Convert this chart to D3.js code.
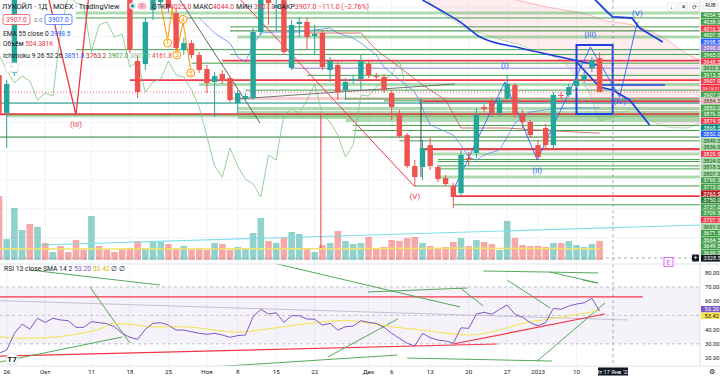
<!DOCTYPE html>
<html>
<head>
<meta charset="utf-8">
<script src="https://cdn.jsdelivr.net/npm/d3@7"></script>
<style>
  body { margin: 0; background: #fff; }
  svg { display: block; font-family: Roboto, "Noto Sans", sans-serif; }
</style>
</head>
<body>
<svg id="chart" width="720" height="376"></svg>
<script>
// daily candles, index 0..78
const opens = [3966,3834,3973,4262,4300,4280,4330,4310,4325,4305,
  4300,4270,4265,4310,4300,4290,4270,4240,4015,4004.5,
  4192.5,4220.5,4241.5,4182,4053.5,4077.5,4036,3987,3942,3969.5,
  3955.5,3868.5,3882.5,3886,4116,4255.5,4199.5,4227.5,3990.5,4144,
  4151,4102,4112.5,3983.5,4001,3914,3945.5,3952,4004.5,3962.5,
  3959,3903.5,3834,3757,3649,3645.5,3722,3645.5,3607,3579.5,
  3555,3677,3694.5,3854.5,3872,3834,3886,3931.5,3827,3802.5,
  3722,3781.5,3722,3896.5,3896.5,3928,3949,3990.5,4025];
const highs = [3983.5,3949,4275,4315,4310,4340,4345,4335,4330,4315,
  4305,4280,4320,4315,4305,4295,4275,4250,4036,4165,
  4245,4262.5,4255.5,4199.5,4095,4088,4046.5,4001,3976.5,3983.5,
  3962.5,3914,3903.5,4130,4262.5,4269.5,4245,4241.5,4158,4165,
  4165,4140.5,4123,4029,4011.5,3955.5,3962.5,4036,4018.5,3973,
  3969.5,3914,3844.5,3764,3670,3739.5,3746.5,3652.5,3617.5,3590,
  3705,3698,3851,3865,3882.5,3889.5,3966,3938.5,3844.5,3809.5,
  3739.5,3795.5,3907,3907,3935,3955.5,3976.5,4029,4044];
const lows = [3816.5,3711.5,3962.5,4250,4270,4275,4300,4305,4295,4290,
  4262,4255,4260,4290,4282,4262,4238,4043,3886,3983.5,
  4158,4199.5,4185.5,4053.5,4036,4025.5,3973,3903.5,3820,3935,
  3872,3834,3875.5,3879,4105.5,4140.5,4123,4036,3983.5,4098.5,
  4053.5,4036,3983.5,3942,3879,3879,3935,3914,3955.5,3949,
  3903.5,3809.5,3746.5,3642,3576,3600.5,3635,3593.5,3579.5,3502.5,
  3544.5,3652.5,3677,3837.5,3820,3823.5,3879,3816.5,3781.5,3746.5,
  3670,3705,3711.5,3882.5,3889.5,3921,3938.5,3976.5,3907];
const closes = [3834,3935,4262,4300,4280,4330,4310,4325,4305,4300,
  4270,4265,4310,4300,4290,4270,4245,4053.5,3907,4151,
  4227.5,4248.5,4199.5,4060.5,4077.5,4036,3983.5,3938.5,3962.5,3945.5,
  3879,3903.5,3893,4116,4245,4217,4210,4046.5,4140.5,4151,
  4098.5,4109,3994,4015,3907,3942,3952,4015,3966,3959,
  3914,3854.5,3753.5,3649,3610.5,3711.5,3649,3603.5,3586.5,3541,
  3687.5,3670,3827,3847.5,3834,3879,3935,3827,3802.5,3757,
  3680.5,3722,3896.5,3893,3924.5,3949,3966,4018,3907];
const volumes = [1696,557,1378,795,954,875,451,212,371,212,
  530,265,1166,371,265,212,292,318,504,318,
  477,477,424,292,371,292,318,265,451,424,
  265,345,292,716,1113,504,451,583,742,689,
  318,212,398,451,769,504,424,451,610,318,
  345,530,504,583,610,451,371,292,345,477,
  583,371,530,477,424,265,1034,583,398,371,
  371,345,451,451,504,398,345,424,504.381];
const volMaIdx = [0, 15, 30, 45, 60, 78];
const volMa = [300, 290, 295, 300, 310, 300];

const rsi = [23.3,25.6,37.4,43.9,40.4,48.0,45.1,48.0,46.8,46.3,
  41.6,41.6,45.6,44.9,44.2,42.0,37.4,34.6,33.2,40.2,
  44.4,44.9,43.2,39.7,39.7,38.5,37.4,36.7,37.4,36.2,
  34.6,35.8,36.2,49.1,54.3,51.0,51.9,45.1,49.8,49.8,
  47.5,47.3,43.2,44.4,39.7,42.0,42.5,46.3,45.1,44.4,
  41.6,37.4,33.9,30.4,28.5,37.4,34.3,32.7,32.0,30.4,
  41.3,40.9,51.0,52.2,50.8,54.3,57.3,50.8,48.7,44.9,
  42.7,44.9,55.0,54.3,56.6,58.0,58.9,62.0,53.2];
const rsiSmaIdx = [0,3,7,11,13,15,17,20,24,28,31,35,40,45,48,51,55,61,65,68,72,78];
const rsiSma = [35.0,33.9,34.6,37.8,40.2,44.4,43.7,42.0,42.0,39.7,38.2,40.6,44.2,46.5,44.6,42.0,39.7,36.2,39.7,44.4,47.9,53.42];

// indicators
const emaIdx = [55, 57.3, 59.9, 62.5, 67.7, 72.9, 78];
const ema = [4227.6, 4192.8, 4151, 4098.6, 4060.3, 4029, 3998.5];
const tenkanIdx = [26,28,30,31,32,33,34,36,39,41,43,44,46,47,49,50,52,54,56,59,60,61,62,63,65,66,67,69,71,74,78];
const tenkan = [4165,4112.5,4077.5,4029,4011.5,4071,4112.5,4116,4116,4123,4130,4112.5,4095,4077.5,4036,3994,3949,3907,3792,3757,3722,3680.5,3670,3687.5,3705,3750,3799,3837.5,3844.5,3851,3851.8];
const kijunIdx = [40,47,49,52,55,58,60,66,70,78];
const kijun = [4112.5,4112.5,4053.5,3994,3931.5,3879,3781.5,3781.5,3774.5,3763.2];
const cloudIdx = [55.6,57,59,61,62.5,65,67.7,70,72.9,75,76.8,78,82.3,84.5,86.8,89.3,91,93];
const spanA = [4227.6,4192.8,4158,4123,4112.6,4090,4070.8,4045,4018.5,3960,3896.5,3807.5,3844.3,3809.4,3785,3781.5,3799,3805];
const spanB = [4262,4255,4250,4245,4240,4238,4225,4210,4195,4186,4175,4161.8,4140.5,4120,4088,4040,4020,4000];

// horizontal levels
const levelPrices = [4182,4165,4134,4120,4099,4054.5,4038,4016.5,4007.5,3990,3965,3948.5,3933.5,3913.5,3884.5,3883,3876,3874.5,3868.5,3849.5,3836,3829.5,3824,3818.5,3807.5,3790.5,3773,3750,3737,3709.5,3707.5,3691,3671.5,3664.5,3649.5,3639,3610.5,3579.5,3544.5,3514];
const levelKinds = ["band","green","green","dark","band","green","green","red","green","purple","green","red","band","green","pink","green","green","red","teal","band","band","red","band","band","band","green","green","dark","green","green","red","band","green","green","green","green","band","green","red","green"];
const levelStart = [10,10,30,30,31,10,30,29,25,38,40,17,26,32,30,45,50,55,0,31,31,0,1,31,45,46,46,0,52,55,55,56,57,57,57,57,57,54,59,59];
const levelLabeled = [0,0,0,0,0,1,1,1,1,1,1,1,1,1,1,1,1,1,1,1,1,1,1,1,1,1,1,1,1,1,1,1,1,1,1,1,0,0,0,0];

// indicator marks on the price scale
const markPrices = [3998.5, 3907, 3852, 3763.5, 3906.9];
const markKinds = ["blue","current","blue","darkred","chikou"];
const markTexts = ["3998.5","3907.0","3852.0","3763.5","3907.0"];

const tickIdx = [1, 6, 12, 17, 22, 27, 31, 36, 41, 48, 51, 56, 61, 66, 70, 75];
const tickLabels = ["26","Окт","11","18","25","Ноя","8","15","22","Дек","6","13","20","27","2023","10"];

const rsiTicks = [80, 70, 60, 40, 30, 20];

const colors = {
  up: "#26a69a", down: "#ef5350",
  green: "#43a047", dark: "#2e7d32", band: "#a5d6a7", red: "#f23645",
  purple: "#9575cd", pink: "#f8bbd0", teal: "#00897b", blue: "#2962ff",
  darkred: "#b71c1c", current: "#f23645", chikou: "#43a047"
};

const svg = d3.select("#chart");
const plotW = 700, mainH = 264, rsiTop = 264, rsiBottom = 366;

const x = d3.scaleLinear().domain([0, 78]).range([-1, 599.6]);
const y = d3.scaleLinear().domain([3314.6, 4227.6]).range([262, 0]);
const yVol = d3.scaleLinear().domain([0, 2000]).range([260, 184.5]);
const yRsi = d3.scaleLinear().domain([14.4, 86.2]).range([rsiBottom, rsiTop]);

const defs = svg.append("defs");
defs.append("clipPath").attr("id", "clipMain").append("rect").attr("x", 0).attr("y", 0).attr("width", plotW).attr("height", mainH);
defs.append("clipPath").attr("id", "clipRsi").append("rect").attr("x", 0).attr("y", rsiTop).attr("width", plotW).attr("height", rsiBottom - rsiTop);

// grid
const grid = svg.append("g");
grid.selectAll("line.v").data(tickIdx).enter().append("line")
  .attr("x1", d => x(d)).attr("x2", d => x(d)).attr("y1", 0).attr("y2", rsiBottom)
  .attr("stroke", "#f0f3fa");
grid.selectAll("line.h").data(d3.range(3400, 4250, 100)).enter().append("line")
  .attr("x1", 0).attr("x2", plotW).attr("y1", d => y(d)).attr("y2", d => y(d))
  .attr("stroke", "#f0f3fa");

const main = svg.append("g").attr("clip-path", "url(#clipMain)");

// cloud
const cloud = cloudIdx.map((d, i) => ({ i: d, a: spanA[i], b: spanB[i] }));
main.append("path").datum(cloud)
  .attr("d", d3.area().x(d => x(d.i)).y0(d => y(d.a)).y1(d => y(d.b)).curve(d3.curveMonotoneX))
  .attr("fill", "rgba(242,54,69,0.09)");
main.append("path").datum(cloud)
  .attr("d", d3.line().x(d => x(d.i)).y(d => y(d.b)).curve(d3.curveMonotoneX))
  .attr("fill", "none").attr("stroke", "rgba(242,54,69,0.4)").attr("stroke-width", 0.8);
main.append("path").datum(cloud)
  .attr("d", d3.line().x(d => x(d.i)).y(d => y(d.a)).curve(d3.curveMonotoneX))
  .attr("fill", "none").attr("stroke", "rgba(67,160,71,0.4)").attr("stroke-width", 0.8);

// volume
main.selectAll("rect.vol").data(volumes).enter().append("rect")
  .attr("x", (d, i) => x(i) - 3.3).attr("width", 6.6)
  .attr("y", d => yVol(d)).attr("height", d => yVol(0) - yVol(d))
  .attr("fill", (d, i) => closes[i] >= opens[i] ? "rgba(38,166,154,0.5)" : "rgba(239,83,80,0.5)");
main.append("path").datum(volMaIdx.map((d, i) => [d, volMa[i]]))
  .attr("d", d3.line().x(d => x(d[0])).y(d => yVol(d[1])).curve(d3.curveMonotoneX))
  .attr("fill", "none").attr("stroke", "#f5e46a").attr("stroke-width", 1.5);
main.append("line")
  .attr("x1", x(5.3)).attr("y1", yVol(397)).attr("x2", x(91)).attr("y2", yVol(927))
  .attr("stroke", "#80deea").attr("stroke-width", 1.2);

// horizontal levels
const levels = levelPrices.map((p, i) => ({ p, kind: levelKinds[i], start: levelStart[i] }));
main.selectAll("line.lvl").data(levels).enter().append("line")
  .attr("x1", d => x(d.start)).attr("x2", plotW)
  .attr("y1", d => y(d.p)).attr("y2", d => y(d.p))
  .attr("stroke", d => d.kind === "band" ? "rgba(76,175,80,0.45)" : d.kind === "pink" ? "rgba(242,54,69,0.25)" : colors[d.kind])
  .attr("stroke-width", d => d.kind === "band" || d.kind === "pink" ? 3 : d.kind === "red" ? 1.8 : 1);

// ichimoku lines
const lineGen = d3.line().x(d => x(d[0])).y(d => y(d[1]));
main.append("path").datum(tenkanIdx.map((d, i) => [d, tenkan[i]]))
  .attr("d", lineGen).attr("fill", "none").attr("stroke", "#5b8def").attr("stroke-width", 0.8);
main.append("path").datum(kijunIdx.map((d, i) => [d, kijun[i]]))
  .attr("d", lineGen).attr("fill", "none").attr("stroke", "#c0504d").attr("stroke-width", 0.8);
main.append("path").datum(closes.map((c, i) => [i - 25, c]))
  .attr("d", lineGen).attr("fill", "none").attr("stroke", "#7cc47f").attr("stroke-width", 0.8);
main.append("path").datum(emaIdx.map((d, i) => [d, ema[i]]))
  .attr("d", d3.line().x(d => x(d[0])).y(d => y(d[1])).curve(d3.curveMonotoneX)).attr("fill", "none").attr("stroke", "#1e40e0").attr("stroke-width", 1.6);

// drawings (bar index, price)
const drawings = [
  { pts: [[31.4, 4227.6], [53.9, 3579.4]], c: "#f23645", w: 1 },
  { pts: [[23.5, 4227.6], [33.9, 3799]], c: "#555", w: 0.9 },
  { pts: [[30.9, 3882.6], [59.2, 3934.9]], c: "#666", w: 0.9 },
  { pts: [[54.8, 3882.6], [54.8, 3610.8]], c: "#222", w: 0.8 },
  { pts: [[41.8, 3833.8], [41.8, 3363.3]], c: "#f23645", w: 1 },
  { pts: [[6.5, 4227.6], [10, 3826.8], [11.6, 4227.6]], c: "#f23645", w: 1.3 },
  { pts: [[20.9, 4227.6], [21.9, 4088.2], [22.5, 4199.7], [23.1, 4046.4], [23.9, 4150.9], [24.9, 3983.6]], c: "#ff9800", w: 1 },
  { pts: [[59, 3565.5], [65.7, 3941.8], [69.9, 3670], [76.8, 4063.8], [80.6, 3889.6], [82.9, 4150.9]], c: "#2962ff", w: 0.9 },
  { pts: [[76.8, 4245], [79, 4185.8], [79.7, 4168.4], [82.2, 4164.9], [83.2, 4130], [86.2, 4081.2]], c: "#1e40e0", w: 1.8 },
  { pts: [[75, 4011.5], [78, 3924.4], [79.7, 3914], [81.9, 3879.1], [84.5, 3792]], c: "#1e40e0", w: 1.8 },
  { pts: [[78, 3931.5], [86.5, 3931.5]], c: "#1e40e0", w: 1.5 }
];
main.selectAll("path.drw").data(drawings).enter().append("path")
  .attr("d", d => d3.line().x(p => x(p[0])).y(p => y(p[1]))(d.pts))
  .attr("fill", "none").attr("stroke", d => d.c).attr("stroke-width", d => d.w);
main.append("rect")
  .attr("x", x(75)).attr("y", y(4070.8)).attr("width", x(79.7) - x(75)).attr("height", y(3830.3) - y(4070.8))
  .attr("fill", "none").attr("stroke", "#1e40e0").attr("stroke-width", 2);

// candles
const idx = d3.range(opens.length);
main.selectAll("line.wick").data(idx).enter().append("line")
  .attr("x1", i => x(i)).attr("x2", i => x(i)).attr("y1", i => y(highs[i])).attr("y2", i => y(lows[i]))
  .attr("stroke", i => closes[i] >= opens[i] ? colors.up : colors.down);
main.selectAll("rect.body").data(idx).enter().append("rect")
  .attr("x", i => x(i) - 2.7).attr("width", 5.4)
  .attr("y", i => y(Math.max(opens[i], closes[i])))
  .attr("height", i => Math.max(1, Math.abs(y(opens[i]) - y(closes[i]))))
  .attr("fill", i => closes[i] >= opens[i] ? colors.up : colors.down);

// current price line
main.append("line").attr("x1", 0).attr("x2", plotW).attr("y1", y(3907)).attr("y2", y(3907))
  .attr("stroke", "#f23645").attr("stroke-dasharray", "1,2").attr("stroke-opacity", 0.7);

// wave labels
const waveLabels = [
  { t: "(III)", i: 10, p: 3785, c: "#f23645" },
  { t: "(V)", i: 54, p: 3535, c: "#f23645" },
  { t: "(I)", i: 65.7, p: 3990, c: "#2962ff" },
  { t: "(II)", i: 69.9, p: 3625, c: "#2962ff" },
  { t: "(III)", i: 76.8, p: 4100, c: "#2962ff" },
  { t: "(IV)", i: 80.6, p: 3865, c: "#2962ff" },
  { t: "(V)", i: 82.9, p: 4173, c: "#2962ff" }
];
main.selectAll("text.wave").data(waveLabels).enter().append("text")
  .attr("x", d => x(d.i)).attr("y", d => y(d.p)).attr("text-anchor", "middle")
  .attr("font-size", 8).attr("fill", d => d.c).text(d => d.t);
const orangeMarks = [{ t: "1", i: 21.9, p: 4078 }, { t: "3", i: 23.1, p: 4036 }, { t: "4", i: 23.9, p: 4160 }, { t: "5", i: 24.9, p: 3973 }];
const om = main.selectAll("g.om").data(orangeMarks).enter().append("g")
  .attr("transform", d => `translate(${x(d.i)},${y(d.p)})`);
om.append("circle").attr("r", 4).attr("fill", "#fff").attr("stroke", "#ff9800");
om.append("text").attr("y", 2.5).attr("text-anchor", "middle").attr("font-size", 7).attr("fill", "#ff9800").text(d => d.t);

// crosshair
svg.append("line").attr("x1", 613).attr("x2", 613).attr("y1", 0).attr("y2", rsiBottom)
  .attr("stroke", "#9598a1").attr("stroke-dasharray", "3,3").attr("stroke-width", 0.8);
svg.append("line").attr("x1", 0).attr("x2", plotW).attr("y1", 258).attr("y2", 258)
  .attr("stroke", "#9598a1").attr("stroke-dasharray", "3,3").attr("stroke-width", 0.8);

// RSI pane
const rsiG = svg.append("g").attr("clip-path", "url(#clipRsi)");
rsiG.append("rect").attr("x", 0).attr("width", plotW).attr("y", yRsi(70)).attr("height", yRsi(30) - yRsi(70))
  .attr("fill", "rgba(126,87,194,0.08)");
rsiG.selectAll("line.band").data([70, 50, 30]).enter().append("line")
  .attr("x1", 0).attr("x2", plotW).attr("y1", d => yRsi(d)).attr("y2", d => yRsi(d))
  .attr("stroke", "#b2b5be").attr("stroke-dasharray", "3,3").attr("stroke-width", 0.8);
const rsiDrawings = [
  { pts: [[-0.1, 63], [83.6, 63]], c: "#f23645", w: 1.2 },
  { pts: [[0.1, 60.4], [81.7, 46.8]], c: "#c5bfd6", w: 1 },
  { pts: [[0.1, 21.4], [64.7, 29.9]], c: "#f23645", w: 1.2 },
  { pts: [[59, 29.9], [78.7, 51]], c: "#f23645", w: 1.2 },
  { pts: [[4, 82], [20.9, 71.4]], c: "#43a047", w: 0.9 },
  { pts: [[11.8, 70], [17, 30.6]], c: "#43a047", w: 0.9 },
  { pts: [[0.1, 17.2], [16, 34.8]], c: "#43a047", w: 0.9 },
  { pts: [[21.3, 11.5], [51.7, 22.1]], c: "#43a047", w: 0.9 },
  { pts: [[42.7, 20.7], [51.8, 47.5]], c: "#43a047", w: 0.9 },
  { pts: [[34.5, 88.3], [59.9, 55.9]], c: "#43a047", w: 0.9 },
  { pts: [[47.9, 66.5], [60.8, 69.3]], c: "#43a047", w: 0.9 },
  { pts: [[59.9, 69.3], [62.9, 56.6]], c: "#43a047", w: 0.9 },
  { pts: [[66, 74.9], [71.6, 55.2]], c: "#43a047", w: 0.9 },
  { pts: [[75.8, 74.9], [77.8, 72.8]], c: "#43a047", w: 0.9 },
  { pts: [[53, 20], [71.8, 17.9]], c: "#43a047", w: 0.9 },
  { pts: [[69.9, 17.9], [78.7, 58.7]], c: "#43a047", w: 0.9 },
  { pts: [[62.9, 81.3], [77.8, 79.9]], c: "#43a047", w: 0.9 },
  { pts: [[71.5, 80.6], [77.8, 72.8]], c: "#43a047", w: 0.9 }
];
rsiG.selectAll("path.rd").data(rsiDrawings).enter().append("path")
  .attr("d", d => d3.line().x(p => x(p[0])).y(p => yRsi(p[1]))(d.pts))
  .attr("fill", "none").attr("stroke", d => d.c).attr("stroke-width", d => d.w);
rsiG.append("path").datum(rsiSmaIdx.map((d, i) => [d, rsiSma[i]]))
  .attr("d", d3.line().x(d => x(d[0])).y(d => yRsi(d[1])).curve(d3.curveMonotoneX))
  .attr("fill", "none").attr("stroke", "#f7e34a").attr("stroke-width", 1);
rsiG.append("path").datum(rsi)
  .attr("d", d3.line().x((d, i) => x(i)).y(d => yRsi(d)))
  .attr("fill", "none").attr("stroke", "#7e57c2").attr("stroke-width", 1);

// pane separator and axis border
svg.append("line").attr("x1", 0).attr("x2", 720).attr("y1", rsiTop).attr("y2", rsiTop).attr("stroke", "#e0e3eb");
svg.append("line").attr("x1", plotW).attr("x2", plotW).attr("y1", 0).attr("y2", rsiBottom).attr("stroke", "#e0e3eb");
svg.append("line").attr("x1", 0).attr("x2", 720).attr("y1", rsiBottom).attr("y2", rsiBottom).attr("stroke", "#e0e3eb");

// price scale labels (stacked like the terminal does)
const labelH = 6.6;
let marks = levels.filter((d, i) => levelLabeled[i]).map(d => ({ p: d.p, kind: d.kind, text: d3.format(".1f")(d.p) }));
markPrices.forEach((p, i) => marks.push({ p, kind: markKinds[i], text: markTexts[i] }));
marks.push({ p: 3906.95, kind: "countdown", text: "03:15:21" });
marks.sort((a, b) => b.p - a.p);
marks.forEach(m => m.y = y(m.p));
for (let i = 1; i < marks.length; i++) marks[i].y = Math.max(marks[i].y, marks[i - 1].y + labelH);
marks[marks.length - 1].y = Math.min(marks[marks.length - 1].y, 253);
for (let i = marks.length - 2; i >= 0; i--) marks[i].y = Math.min(marks[i].y, marks[i + 1].y - labelH);
marks[0].y = Math.max(marks[0].y, 12);
for (let i = 1; i < marks.length; i++) marks[i].y = Math.max(marks[i].y, marks[i - 1].y + labelH);

const labelFill = { band: "#a5d6a7", pink: "#f8bbd0", countdown: "#f23645" };
const lab = svg.append("g").selectAll("g").data(marks).enter().append("g")
  .attr("transform", d => `translate(701,${d.y})`);
lab.append("rect").attr("x", 0).attr("y", -labelH / 2).attr("width", 19).attr("height", labelH - 0.4)
  .attr("fill", d => labelFill[d.kind] || colors[d.kind]);
lab.append("text").attr("x", d => d.kind === "countdown" ? 1.5 : 2.2).attr("y", 2)
  .attr("font-size", d => d.kind === "countdown" ? 4.4 : 5.6)
  .attr("fill", d => d.kind === "band" || d.kind === "pink" ? "#1b5e20" : "#fff").text(d => d.text);

svg.append("rect").attr("x", 703).attr("y", 1).attr("width", 15).attr("height", 8).attr("rx", 1.5)
  .attr("fill", "#fff").attr("stroke", "#d1d4dc").attr("stroke-width", 0.6);
svg.append("text").attr("x", 710.5).attr("y", 7.3).attr("text-anchor", "middle").attr("font-size", 5.6).attr("fill", "#131722").text("RUB");

// crosshair price label
svg.append("rect").attr("x", 701).attr("y", 255).attr("width", 19).attr("height", 6.6).attr("fill", "#131722");
svg.append("text").attr("x", 703.5).attr("y", 260).attr("font-size", 5.6).attr("fill", "#fff").text(d3.format(".1f")(y.invert(258)));
svg.append("rect").attr("x", 692).attr("y", 254.5).attr("width", 7).attr("height", 7).attr("fill", "#131722").attr("rx", 1);
svg.append("text").attr("x", 695.5).attr("y", 260.2).attr("text-anchor", "middle").attr("font-size", 7).attr("fill", "#fff").text("+");
svg.append("rect").attr("x", 664).attr("y", 257.5).attr("width", 9).attr("height", 9).attr("fill", "#fff").attr("stroke", "#e040fb").attr("stroke-width", 0.8);
svg.append("text").attr("x", 668.5).attr("y", 264.8).attr("text-anchor", "middle").attr("font-size", 7).attr("fill", "#e040fb").text("E");

// RSI scale labels
svg.append("g").selectAll("text").data(rsiTicks).enter().append("text")
  .attr("x", 705).attr("y", d => yRsi(d) + 2).attr("font-size", 5.8).attr("fill", "#131722").text(d => d3.format(".2f")(d));
const rsiMarks = [{ v: 53.2, fill: "#7e57c2", tc: "#fff", y: yRsi(53.2) - 1.6 }, { v: 53.42, fill: "#f7e34a", tc: "#131722", y: yRsi(53.2) + 5 }];
const rm = svg.append("g").selectAll("g").data(rsiMarks).enter().append("g").attr("transform", d => `translate(701,${d.y})`);
rm.append("rect").attr("y", -3.3).attr("width", 19).attr("height", 6.4).attr("fill", d => d.fill);
rm.append("text").attr("x", 3.5).attr("y", 2).attr("font-size", 5.8).attr("fill", d => d.tc).text(d => d3.format(".2f")(d.v));

// time axis
svg.append("g").selectAll("text").data(tickIdx).enter().append("text")
  .attr("x", d => x(d)).attr("y", 373.5).attr("text-anchor", "middle").attr("font-size", 6.2).attr("fill", "#131722")
  .text((d, i) => tickLabels[i]);
svg.append("rect").attr("x", 598).attr("y", 367.5).attr("width", 30).attr("height", 8).attr("fill", "#131722");
svg.append("text").attr("x", 613).attr("y", 373.5).attr("text-anchor", "middle").attr("font-size", 5.6).attr("fill", "#fff").text("Вт 17 Янв '23");
svg.append("text").attr("x", 712).attr("y", 373.5).attr("text-anchor", "middle").attr("font-size", 6.5).attr("fill", "#131722").text("⚙");

// legend
const leg = svg.append("g").attr("font-size", 6.6).attr("fill", "#131722");
leg.append("text").attr("x", 2).attr("y", 8.5).attr("font-size", 7.4).text("ЛУКОЙЛ · 1Д · MOEX · TradingView");
leg.append("circle").attr("cx", 132.5).attr("cy", 6).attr("r", 3.4).attr("fill", "#e0e3eb");
leg.append("circle").attr("cx", 132.5).attr("cy", 6).attr("r", 1.6).attr("fill", "#089981");
leg.append("rect").attr("x", 137.5).attr("y", 2.6).attr("width", 9).attr("height", 7).attr("rx", 3.5).attr("fill", "#f8bbd0");
leg.append("text").attr("x", 142).attr("y", 8.3).attr("text-anchor", "middle").attr("fill", "#f23645").text("=");
const ohlc = leg.append("text").attr("x", 152).attr("y", 8.5).attr("font-size", 7);
[["ОТКР", "#131722"], ["4025.0 ", "#f23645"], ["МАКС", "#131722"], ["4044.0 ", "#f23645"], ["МИН ", "#131722"], ["3907.0 ", "#f23645"], ["ЗАКР", "#131722"], ["3907.0 −111.0 (−2.76%)", "#f23645"]]
  .forEach(s => ohlc.append("tspan").attr("fill", s[1]).text(s[0]));
leg.append("rect").attr("x", 3).attr("y", 14.5).attr("width", 27).attr("height", 10).attr("rx", 2).attr("fill", "#fff").attr("stroke", "#f23645").attr("stroke-width", 0.7);
leg.append("text").attr("x", 16.5).attr("y", 22).attr("text-anchor", "middle").attr("fill", "#f23645").text("3907.0");
leg.append("text").attr("x", 34).attr("y", 22).attr("fill", "#787b86").attr("font-size", 6).text("0.0");
leg.append("rect").attr("x", 45).attr("y", 14.5).attr("width", 27).attr("height", 10).attr("rx", 2).attr("fill", "#fff").attr("stroke", "#2962ff").attr("stroke-width", 0.7);
leg.append("text").attr("x", 58.5).attr("y", 22).attr("text-anchor", "middle").attr("fill", "#2962ff").text("3907.0");
const legRows = [
  { y: 35.5, parts: [["EMA 55 close 0  ", "#131722"], ["3998.5", "#2962ff"]] },
  { y: 46, parts: [["Объём  ", "#131722"], ["504.381K", "#f23645"]] },
  { y: 57.5, parts: [["Ichimoku 9 26 52 26  ", "#131722"], ["3851.8 ", "#2962ff"], ["3763.2 ", "#b71c1c"], ["3907.0 ", "#43a047"], ["3807.5 ", "#81c784"], ["4161.8", "#f23645"]] }
];
legRows.forEach(r => {
  const t = leg.append("text").attr("x", 3).attr("y", r.y);
  r.parts.forEach(s => t.append("tspan").attr("fill", s[1]).text(s[0]));
});
leg.append("rect").attr("x", 5).attr("y", 63).attr("width", 13).attr("height", 9).attr("rx", 2).attr("fill", "#fff").attr("stroke", "#e0e3eb");
leg.append("text").attr("x", 11.5).attr("y", 70.5).attr("text-anchor", "middle").attr("font-size", 7).text("˄");

// top-right buttons
const btn = svg.append("g").selectAll("g").data(["↓", "✕", "⟳"]).enter().append("g")
  .attr("transform", (d, i) => `translate(${667 + i * 11.5},3)`);
btn.append("rect").attr("width", 9).attr("height", 8).attr("rx", 1.5).attr("fill", "#fff").attr("stroke", "#d1d4dc").attr("stroke-width", 0.6);
btn.append("text").attr("x", 4.5).attr("y", 6.3).attr("text-anchor", "middle").attr("font-size", 6).attr("fill", "#131722").text(d => d);

// RSI legend
const rl = svg.append("text").attr("x", 4).attr("y", 271).attr("font-size", 6.8);
[["RSI 13 close SMA 14 2  ", "#131722"], ["53.20  ", "#7e57c2"], ["53.42  ", "#d4b700"], ["∅  ∅", "#131722"]]
  .forEach(s => rl.append("tspan").attr("fill", s[1]).text(s[0]));

// logo
svg.append("circle").attr("cx", 12).attr("cy", 359).attr("r", 6).attr("fill", "#fff").attr("stroke", "#e0e3eb");
svg.append("text").attr("x", 12).attr("y", 362).attr("text-anchor", "middle").attr("font-size", 8).attr("font-weight", "bold").attr("fill", "#131722").text("T7");
</script>
</body>
</html>
